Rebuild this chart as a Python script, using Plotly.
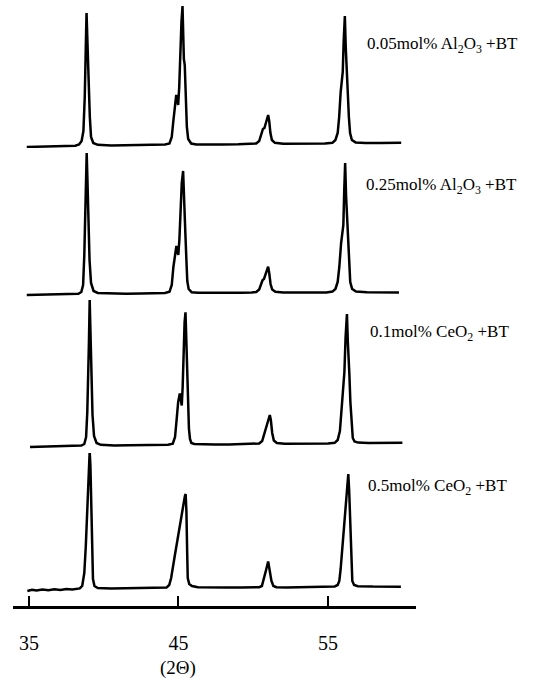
import plotly.graph_objects as go

# ---------------- data ----------------
labels = ["0.05mol% Al<sub>2</sub>O<sub>3</sub> +BT",
          "0.25mol% Al<sub>2</sub>O<sub>3</sub> +BT",
          "0.1mol% CeO<sub>2</sub> +BT",
          "0.5mol% CeO<sub>2</sub> +BT"]

tick_values = [35, 45, 55]
tick_text = ["35", "45", "55"]
x_title = "(2Θ)"

tt1 = [34.85, 35.5, 36.2, 37.0, 37.6, 38.1, 38.35, 38.52, 38.64, 38.73, 38.80, 38.85, 38.90, 38.95, 39.00,
       39.07, 39.15, 39.30, 39.6, 40.5, 41.5, 42.5, 43.5, 44.1, 44.4, 44.55, 44.65, 44.75, 44.85, 44.92,
       44.98, 45.05, 45.12, 45.20, 45.27, 45.32, 45.36, 45.42, 45.50, 45.56, 45.65, 45.85, 46.2, 47.0,
       48.0, 49.0, 49.8, 50.2, 50.4, 50.55, 50.65, 50.75, 50.85, 50.95, 51.00, 51.07, 51.15, 51.25,
       51.45, 52.0, 53.0, 54.0, 54.8, 55.3, 55.5, 55.65, 55.75, 55.85, 55.93, 55.99, 56.05, 56.13,
       56.19, 56.25, 56.32, 56.40, 56.48, 56.60, 56.85, 57.5, 58.5, 59.9]
int1 = [0, 0.3, 0.2, 0.6, 0.8, 1.2, 2.5, 6, 16, 50, 100, 134, 110, 70, 62,
        30, 10, 4, 2.2, 1.6, 1.8, 2.0, 2.2, 2.6, 3.5, 10, 25, 42, 52, 48,
        42, 60, 95, 125, 141, 110, 88, 82, 50, 20, 8, 3.5, 2.6, 2.4,
        2.6, 2.8, 3.0, 3.6, 6, 14, 18, 19, 24, 31, 32, 26, 14, 7,
        4.2, 3.2, 3.2, 3.4, 3.6, 4.2, 7, 14, 30, 55, 68, 75, 105, 131,
        100, 76, 60, 30, 14, 7, 4.6, 4.0, 4.0, 4.2]

tt2 = [34.85, 35.6, 36.4, 37.2, 37.9, 38.3, 38.50, 38.62, 38.70, 38.76, 38.81, 38.86, 38.91, 38.97,
       39.05, 39.15, 39.32, 39.6, 40.5, 41.5, 42.5, 43.5, 44.1, 44.40, 44.55, 44.66, 44.76, 44.86,
       44.93, 44.99, 45.06, 45.14, 45.22, 45.31, 45.36, 45.40, 45.46, 45.53, 45.59, 45.68, 45.88,
       46.3, 47.2, 48.2, 49.2, 49.9, 50.2, 50.40, 50.53, 50.63, 50.72, 50.83, 50.94, 51.00, 51.07,
       51.16, 51.27, 51.48, 52.0, 53.0, 54.0, 54.9, 55.3, 55.5, 55.65, 55.76, 55.88, 55.97, 56.03,
       56.09, 56.15, 56.21, 56.27, 56.33, 56.41, 56.49, 56.62, 56.88, 57.6, 58.6, 59.75]
int2 = [0, 0.2, 0.4, 0.3, 0.6, 1.2, 3, 10, 40, 73, 110, 142, 115, 70,
        35, 12, 4, 2, 1.4, 1.3, 1.6, 1.8, 2.0, 3.2, 10, 28, 42, 49,
        44, 40, 55, 90, 112, 124, 95, 70, 62, 35, 14, 6, 2.8,
        2.2, 2.0, 2.0, 2.2, 2.4, 3.0, 5.5, 12, 15, 16, 21, 28, 28.4, 22,
        11, 5.5, 3.2, 2.4, 2.3, 2.4, 2.6, 3.4, 6, 13, 28, 52, 61, 70,
        105, 132, 100, 78, 62, 30, 13, 6, 3.4, 2.8, 2.6, 2.6]

tt3 = [35.07, 35.8, 36.6, 37.4, 38.1, 38.5, 38.70, 38.82, 38.90, 38.96, 39.01, 39.06, 39.11, 39.17,
       39.25, 39.35, 39.52, 39.8, 40.7, 41.7, 42.7, 43.6, 44.3, 44.62, 44.77, 44.88, 44.98, 45.09,
       45.16, 45.22, 45.28, 45.34, 45.41, 45.47, 45.52, 45.57, 45.63, 45.70, 45.77, 45.86, 46.06,
       46.5, 47.4, 48.4, 49.4, 50.1, 50.4, 50.60, 50.73, 50.85, 50.93, 51.02, 51.11, 51.18, 51.27,
       51.38, 51.58, 52.1, 53.1, 54.1, 55.0, 55.45, 55.65, 55.80, 55.91, 55.99, 56.04, 56.10, 56.18,
       56.27, 56.33, 56.38, 56.43, 56.50, 56.58, 56.66, 56.78, 57.02, 57.7, 58.8, 59.98]
int3 = [0, 0.3, 0.2, 0.5, 0.8, 1.4, 3, 10, 35, 67, 105, 147, 118, 70,
        32, 11, 4, 2.2, 1.6, 1.7, 1.9, 2.1, 2.3, 3.4, 10, 28, 45, 53.5,
        48, 41.5, 60, 100, 125, 134.7, 105, 80, 45, 18, 8, 4, 3,
        2.6, 2.5, 2.6, 2.8, 3.0, 3.5, 6, 13, 19, 21, 27, 32, 27, 14,
        6.5, 4, 3.2, 3.2, 3.4, 3.6, 4.2, 7, 16, 38, 52, 56.5, 75, 110,
        133, 105, 80, 73.7, 45, 20, 9, 5.5, 4.4, 4.0, 4.0, 4.2]

tt4 = [34.89, 35.2, 35.5, 35.9, 36.3, 36.7, 37.1, 37.5, 37.9, 38.2, 38.40, 38.56, 38.70, 38.80,
       38.90, 38.98, 39.06, 39.11, 39.17, 39.22, 39.28, 39.38, 39.6, 40.5, 41.5, 42.5, 43.5, 44.2,
       44.38, 44.51, 44.75, 45.00, 45.20, 45.43, 45.48, 45.53, 45.58, 45.62, 45.72, 45.90, 46.3,
       47.2, 48.2, 49.2, 50.0, 50.4, 50.58, 50.72, 50.86, 51.00, 51.10, 51.22, 51.35, 51.55, 52.2,
       53.2, 54.2, 54.9, 55.2, 55.45, 55.65, 55.76, 55.85, 56.00, 56.15, 56.28, 56.36, 56.42, 56.50,
       56.57, 56.63, 56.75, 57.0, 58.0, 59.0, 59.88]
int4 = [0, 1.2, 0.4, 1.6, 0.8, 1.8, 1.0, 2.0, 1.6, 2.2, 2.6, 5, 18, 45,
        81, 110, 139.7, 125, 70, 30, 12, 5, 3, 2.6, 2.8, 3.0, 3.1, 3.4,
        6, 13, 35, 58, 77, 95, 97, 80, 40, 13, 7, 5, 3.8,
        3.4, 3.4, 3.5, 3.6, 3.8, 5, 12, 21, 29.5, 20, 10, 5, 3.8, 3.6,
        3.7, 3.9, 4.0, 4.2, 4.6, 6, 10, 22, 50, 78, 102, 117, 100, 55,
        20, 10, 6, 4.8, 4.4, 4.5, 4.3]

series_x = [tt1, tt2, tt3, tt4]
series_y = [int1, int2, int3, int4]

# ---------------- layout constants ----------------
W, H = 537, 680
M_L, M_R, M_T, M_B = 13, 121, 0, 73
PH = H - M_T - M_B
baseline_px = [147, 295, 447, 591]     # pixel row of each trace baseline (left end)
label_px = [(365, 45), (364, 186), (368, 333), (366, 487)]
R_TOP = 147
PAD = 6
SERIF = "Liberation Serif"

fig = go.Figure()
for k in range(4):
    assert len(series_x[k]) == len(series_y[k]), (k, len(series_x[k]), len(series_y[k]))
    yname = "y" if k == 3 else "y%d" % (k + 2)
    fig.add_trace(go.Scatter(x=series_x[k], y=series_y[k], mode="lines",
                             line=dict(color="black", width=2.5),
                             xaxis="x", yaxis=yname, hoverinfo="skip"))

layout_axes = {}
for k in range(4):
    key = "yaxis" if k == 3 else "yaxis%d" % (k + 2)
    b = baseline_px[k]
    d0 = (PH - b - PAD) / PH
    d1 = min(1.0, (PH - b + R_TOP) / PH)
    layout_axes[key] = dict(domain=[d0, d1], range=[-PAD, R_TOP], visible=False,
                            anchor="x", fixedrange=True)

fig.update_layout(**layout_axes)
fig.update_layout(
    width=W, height=H, margin=dict(l=M_L, r=M_R, t=M_T, b=M_B, autoexpand=False),
    paper_bgcolor="white", plot_bgcolor="white", showlegend=False,
    xaxis=dict(range=[33.93, 60.89], tickvals=tick_values, ticktext=tick_text,
               ticks="inside", ticklen=10, tickwidth=2, tickcolor="black",
               showline=True, linewidth=2.5, linecolor="black",
               showgrid=False, zeroline=False, anchor="free", position=0,
               ticklabelstandoff=17,
               tickfont=dict(family=SERIF, size=20, color="black")),
)

for k in range(4):
    px, py = label_px[k]
    fig.add_annotation(text=labels[k], xref="paper", yref="paper",
                       x=(px - M_L) / (W - M_L - M_R), y=(PH - py) / PH,
                       xanchor="left", yanchor="middle", showarrow=False,
                       font=dict(family=SERIF, size=17, color="black"))

fig.add_annotation(text=x_title, xref="x", yref="paper", x=45, y=(PH - 668) / PH,
                   xanchor="center", yanchor="middle", showarrow=False,
                   font=dict(family=SERIF, size=19, color="black"))

fig.write_html("out.html")
